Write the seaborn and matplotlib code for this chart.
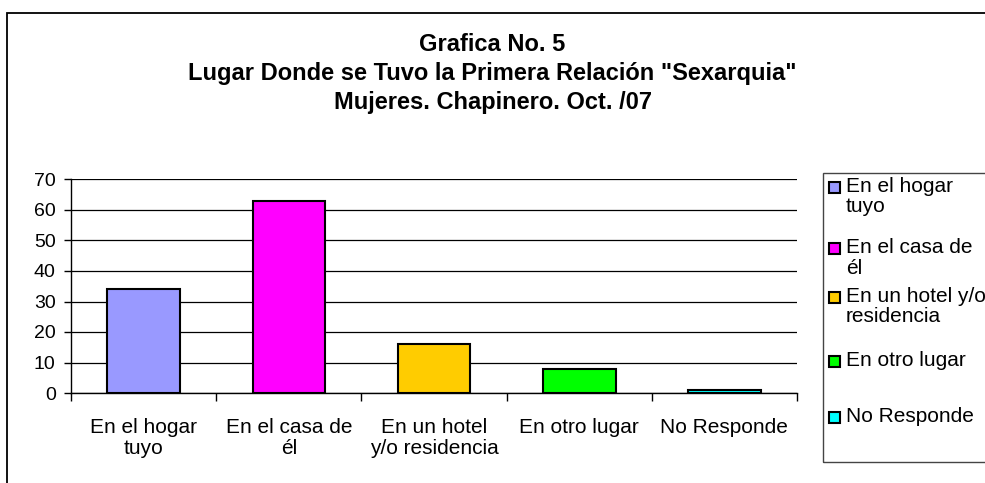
import matplotlib
matplotlib.use("Agg")
import matplotlib.pyplot as plt
import seaborn as sns
from matplotlib.patches import Rectangle

# datos de la grafica
categorias = ["En el hogar\ntuyo", "En el casa de\nél", "En un hotel\ny/o residencia",
              "En otro lugar", "No Responde"]
etiquetas_leyenda = ["En el hogar\ntuyo", "En el casa de\nél", "En un hotel y/o\nresidencia",
                     "En otro lugar", "No Responde"]
valores = [34, 63, 16, 8, 1]
colores = ["#9999FF", "#FF00FF", "#FFCC00", "#00FF00", "#00FFFF"]
titulo = 'Grafica No. 5\nLugar Donde se Tuvo la Primera Relación "Sexarquia"\nMujeres. Chapinero. Oct. /07'

sns.set_theme(style="white")
plt.rcParams['font.family'] = ['Liberation Sans', 'DejaVu Sans']
plt.rcParams['text.color'] = 'black'
plt.rcParams['xtick.color'] = 'black'
plt.rcParams['ytick.color'] = 'black'

W, H = 985, 483
fig = plt.figure(figsize=(W / 100, H / 100), dpi=100)
ax = fig.add_axes([71 / W, 1 - 393 / H, (797 - 71) / W, (393 - 179.5) / H])

sns.barplot(x=categorias, y=valores, hue=categorias, palette=colores, width=0.5,
            edgecolor="black", linewidth=1.5, legend=False, saturation=1, ax=ax, zorder=3)

ax.set_ylim(0, 70)
ax.set_xlim(-0.5, 4.5)
ax.set_yticks(range(0, 71, 10))
ax.yaxis.grid(True, color="black", linewidth=0.9, zorder=0)
ax.set_axisbelow(True)
for s in ["top", "right"]:
    ax.spines[s].set_visible(False)
ax.spines["left"].set_color("black")
ax.spines["bottom"].set_color("black")
ax.spines["left"].set_linewidth(1)
ax.spines["bottom"].set_linewidth(1)
ax.set_xlabel("")
ax.set_ylabel("")
ax.tick_params(axis="y", left=True, length=5, width=1, color="black", labelsize=14, pad=6)
# marcas del eje x entre categorias
ax.set_xticks([i for i in range(5)])
ax.set_xticklabels(categorias, fontsize=15, linespacing=1.1)
ax.set_xticks([i - 0.5 for i in range(6)], minor=True)
ax.tick_params(axis="x", which="major", bottom=False, pad=12)
ax.tick_params(axis="x", which="minor", bottom=True, length=6, width=1, color="black")

fig.text(0.5, 1 - 33 / H, titulo, ha="center", va="top", fontsize=17, fontweight="bold",
         linespacing=1.33)

# marco de la figura
fig.patches.append(Rectangle((7 / W, -0.1), 1.2, 1.1 - 13 / H, transform=fig.transFigure,
                             fill=False, edgecolor="black", linewidth=1.3))

# leyenda
fig.patches.append(Rectangle((823 / W, 1 - 462 / H), 0.3, (462 - 173) / H, transform=fig.transFigure,
                             fill=False, edgecolor="#444444", linewidth=1))
pos_y = [188, 249, 298, 362, 418]
for lab, col, y in zip(etiquetas_leyenda, colores, pos_y):
    fig.patches.append(Rectangle((829 / W, 1 - (y + 5) / H), 11 / W, 11 / H, transform=fig.transFigure,
                                 facecolor=col, edgecolor="black", linewidth=1.5))
    fig.text(846 / W, 1 - (y - 11) / H, lab, ha="left", va="top", fontsize=15, linespacing=1.1)

fig.savefig("out.png", dpi=100)
